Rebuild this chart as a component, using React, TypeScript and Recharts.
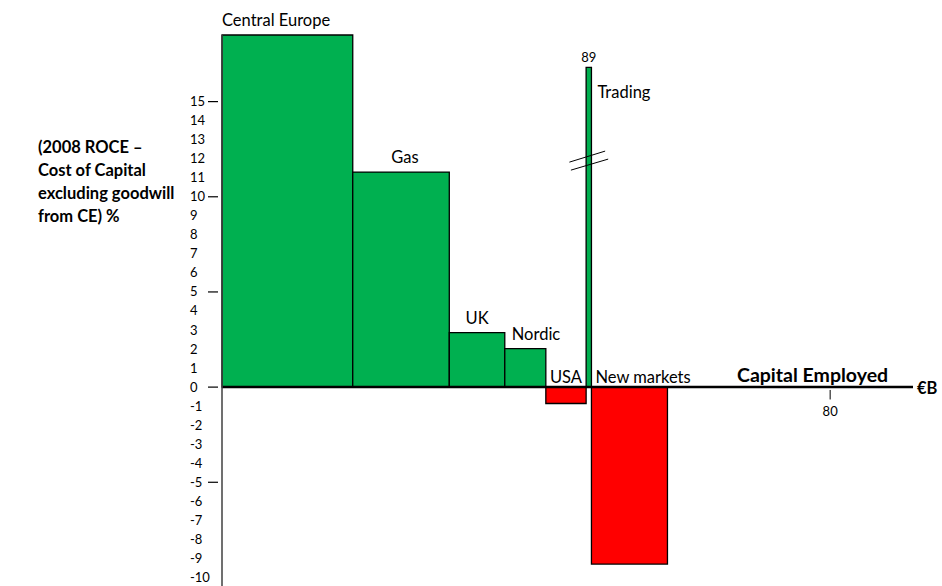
import { ComposedChart, ReferenceArea, ReferenceLine, Scatter, XAxis, YAxis } from "recharts";

// Business segments, capital employed (€B) and 2008 ROCE minus cost of capital (%)
const segments = ["Central Europe", "Gas", "UK", "Nordic", "USA", "Trading", "New markets"];
const capitalEmployed = [17.2, 12.7, 7.3, 5.4, 5.3, 0.7, 10.0];
const roceSpread = [18.5, 11.3, 2.86, 2.02, -0.86, 89, -9.3];

const yTicks = [-10, -9, -8, -7, -6, -5, -4, -3, -2, -1, 0, 1, 2, 3, 4, 5, 6, 7, 8, 9, 10, 11, 12, 13, 14, 15];
const yMarks = [-5, 0, 5, 10, 15];
const xTicks = [80];

// values beyond the axis break are drawn at a capped height
const AXIS_BREAK = 20;
const BREAK_HEIGHT = 16.8;
const breakMarks = [
  [{ x: 45.7, y: 11.82 }, { x: 50.4, y: 12.4 }],
  [{ x: 45.9, y: 11.4 }, { x: 50.8, y: 11.98 }],
];

const FONT = "Lato, 'Open Sans', sans-serif";
const GREEN = "#00b050";
const RED = "#ff0000";

// label placement around each block
const labelLayout: Record<string, { anchor: "start" | "middle"; dx: number }> = {
  "Central Europe": { anchor: "start", dx: 0 },
  Gas: { anchor: "middle", dx: 4 },
  UK: { anchor: "middle", dx: 0 },
  Nordic: { anchor: "start", dx: 7 },
  USA: { anchor: "middle", dx: 0 },
  Trading: { anchor: "start", dx: 0 },
  "New markets": { anchor: "start", dx: 4 },
};

const blocks = (() => {
  let start = 0;
  return segments.map((name, i) => {
    const value = roceSpread[i];
    const shown = value > AXIS_BREAK ? BREAK_HEIGHT : value;
    const b = { name, x1: start, x2: start + capitalEmployed[i], mid: start + capitalEmployed[i] / 2, value, shown };
    start += capitalEmployed[i];
    return b;
  });
})();

function YTick(props: any) {
  const { x, y, payload } = props;
  const v = payload.value as number;
  return (
    <g>
      <text x={x - 32} y={y} dy={4.5} textAnchor="start" fontSize={13} fontFamily={FONT} fill="#000">
        {v}
      </text>
      {yMarks.includes(v) && <line x1={x - 14} x2={x - 4} y1={y} y2={y} stroke="#000" strokeWidth={1.2} />}
    </g>
  );
}

function blockLabel(b: (typeof blocks)[number]) {
  return (props: any) => {
    const vb = props.viewBox || {};
    const left = Math.min(vb.x, vb.x + vb.width);
    const width = Math.abs(vb.width);
    const top = Math.min(vb.y, vb.y + vb.height);
    const { anchor, dx } = labelLayout[b.name];
    const common = { fontSize: 16.5, fontFamily: FONT, fill: "#000" };
    if (b.value > AXIS_BREAK) {
      return (
        <g>
          <text x={left + width / 2} y={top - 5} textAnchor="middle" {...common} fontSize={13}>
            {b.value}
          </text>
          <text x={left + width + 6 + dx} y={top + 31} textAnchor="start" {...common}>
            {b.name}
          </text>
        </g>
      );
    }
    const tx = anchor === "middle" ? left + width / 2 + dx : left + dx;
    return (
      <text x={tx} y={top - 4 - (b.value > 0 ? 5 : 0)} textAnchor={anchor} {...common}>
        {b.name}
      </text>
    );
  };
}

export default function App() {
  return (
    <div style={{ position: "absolute", left: 0, top: 0, width: 942, height: 586, background: "#fff" }}>
      <div
        style={{
          position: "absolute",
          left: 38,
          top: 136,
          fontFamily: FONT,
          fontWeight: 700,
          fontSize: 16.5,
          lineHeight: "23px",
          color: "#000",
        }}
      >
        (2008 ROCE –<br />
        Cost of Capital<br />
        excluding goodwill<br />
        from CE) %
      </div>
      <ComposedChart width={942} height={586} data={blocks} margin={{ top: 35, right: 29, bottom: 0, left: 0 }}>
        <XAxis type="number" dataKey="mid" domain={[0, 90.9]} ticks={xTicks} hide />
        <YAxis
          type="number"
          domain={[-10.45, 18.5]}
          ticks={yTicks}
          interval={0}
          width={222}
          tickSize={0}
          tickMargin={0}
          tickLine={false}
          allowDataOverflow
          axisLine={{ stroke: "#404040", strokeWidth: 1.5 }}
          tick={<YTick />}
        />
        {blocks.map((b) => (
          <ReferenceArea
            key={b.name}
            x1={b.x1}
            x2={b.x2}
            y1={Math.min(0, b.shown)}
            y2={Math.max(0, b.shown)}
            fill={b.value >= 0 ? GREEN : RED}
            fillOpacity={1}
            stroke="#000"
            strokeWidth={1.3}
            ifOverflow="visible"
            label={blockLabel(b)}
          />
        ))}
        {breakMarks.map((seg, i) => (
          <ReferenceLine key={i} segment={seg} stroke="#000" strokeWidth={1} ifOverflow="visible" />
        ))}
        <ReferenceLine y={0} stroke="#000" strokeWidth={2.5} />
        {xTicks.map((t) => (
          <ReferenceLine
            key={t}
            segment={[{ x: t, y: -0.15 }, { x: t, y: -0.65 }]}
            stroke="#000"
            strokeWidth={1}
            ifOverflow="visible"
            label={(p: any) => {
              const vb = p.viewBox || {};
              return (
                <text x={vb.x} y={416} textAnchor="middle" fontSize={13} fontFamily={FONT} fill="#000">
                  {t}
                </text>
              );
            }}
          />
        ))}
        {/* block centres carry the data for the axes; nothing is drawn at them */}
        <Scatter dataKey="shown" isAnimationActive={false} shape={() => <g />} />
      </ComposedChart>
      <div
        style={{
          position: "absolute",
          left: 737,
          top: 364,
          fontFamily: FONT,
          fontWeight: 700,
          fontSize: 19.5,
          lineHeight: "22px",
          color: "#000",
        }}
      >
        Capital Employed
      </div>
      <div
        style={{
          position: "absolute",
          left: 917,
          top: 378,
          fontFamily: FONT,
          fontWeight: 700,
          fontSize: 16.5,
          lineHeight: "20px",
          color: "#000",
        }}
      >
        €B
      </div>
    </div>
  );
}
